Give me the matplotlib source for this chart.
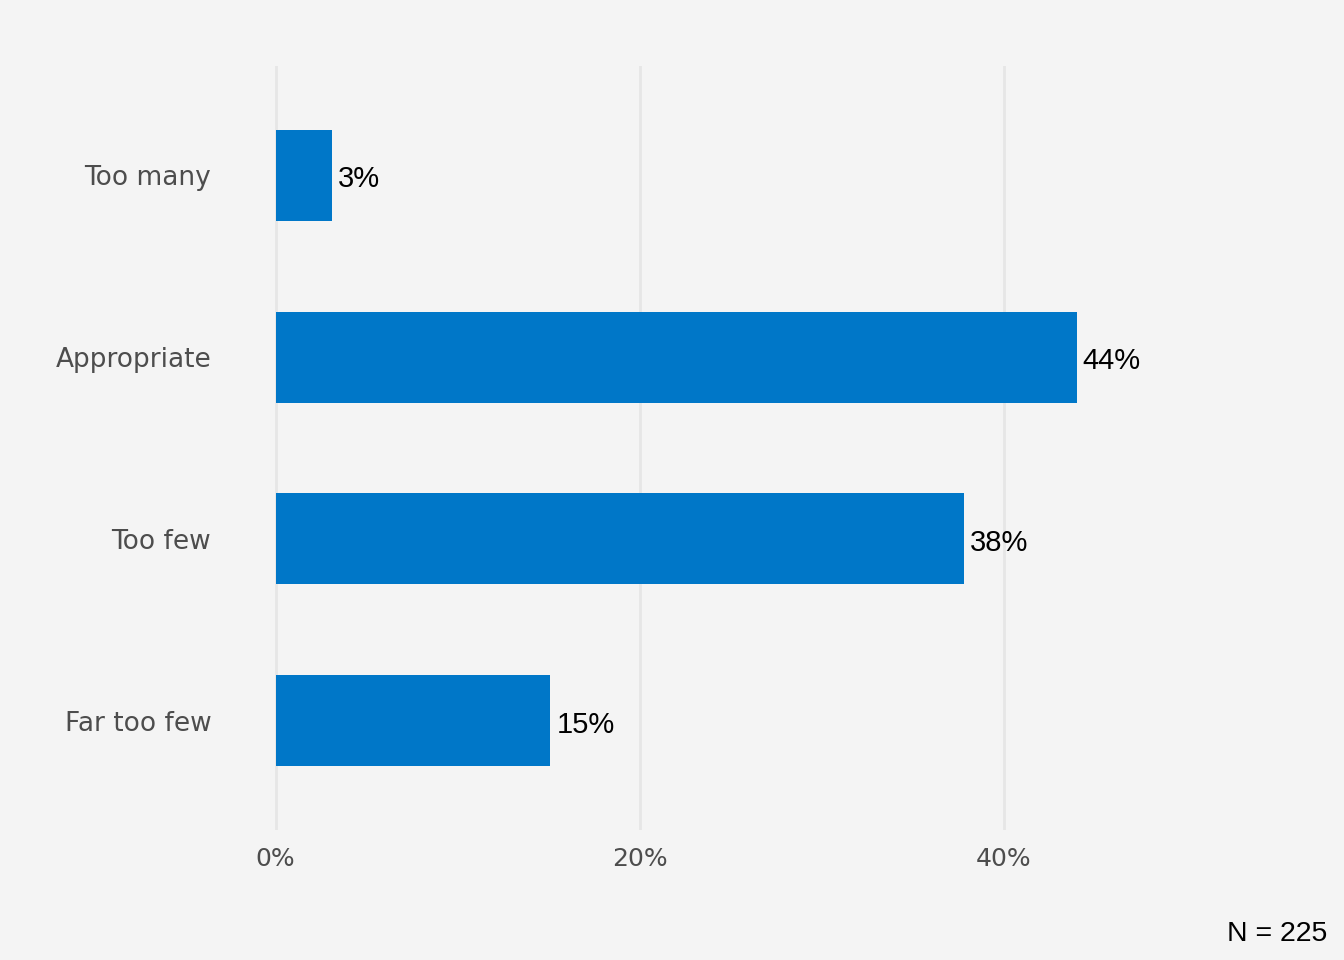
import numpy as np
import matplotlib.pyplot as plt

# survey answers, top to bottom
categories = ["Too many", "Appropriate", "Too few", "Far too few"]
shares = [3.1, 44.0, 37.8, 15.1]
x_ticks = [0, 20, 40]
x_tick_labels = ["0%", "20%", "40%"]
note = "N = 225"

bg = "#f4f4f4"
bar_color = "#0077c8"

fig = plt.figure(figsize=(13.44, 9.6), dpi=100, facecolor=bg)
ax = fig.add_axes([221 / 1344, 1 - 830 / 960, (1295 - 221) / 1344, (830 - 66) / 960])
ax.set_facecolor(bg)

# ggplot style positions: first category on top
ypos = np.arange(len(categories))[::-1] + 1
ax.barh(ypos, shares, height=0.5, color=bar_color, zorder=2)

for y, v in zip(ypos, shares):
    ax.annotate(f"{v:.0f}%", (v, y), xytext=(4.3, -8.4), textcoords="offset points",
                ha="left", va="baseline", fontsize=21, color="black",
                family="Liberation Sans")

ax.set_xlim(-3, 56)
ax.set_ylim(0.4, 4.6)
ax.set_xticks(x_ticks)
ax.set_xticklabels(x_tick_labels)
ax.set_yticks(ypos)
ax.set_yticklabels(categories)

ax.grid(axis="x", color="#e6e6e6", linewidth=2, zorder=0)
ax.grid(axis="y", visible=False)
for s in ax.spines.values():
    s.set_visible(False)

ax.tick_params(axis="both", length=0, labelcolor="#4d4d4d")
ax.tick_params(axis="x", pad=12, labelsize=18)
ax.tick_params(axis="y", pad=7, labelsize=19)
for lbl in ax.get_xticklabels() + ax.get_yticklabels():
    lbl.set_family("DejaVu Sans")

fig.text(1327 / 1344, 1 - 941 / 960, note, ha="right", va="baseline",
         fontsize=20.5, family="Liberation Sans", color="black")

fig.savefig("out.png", dpi=100, facecolor=bg)
